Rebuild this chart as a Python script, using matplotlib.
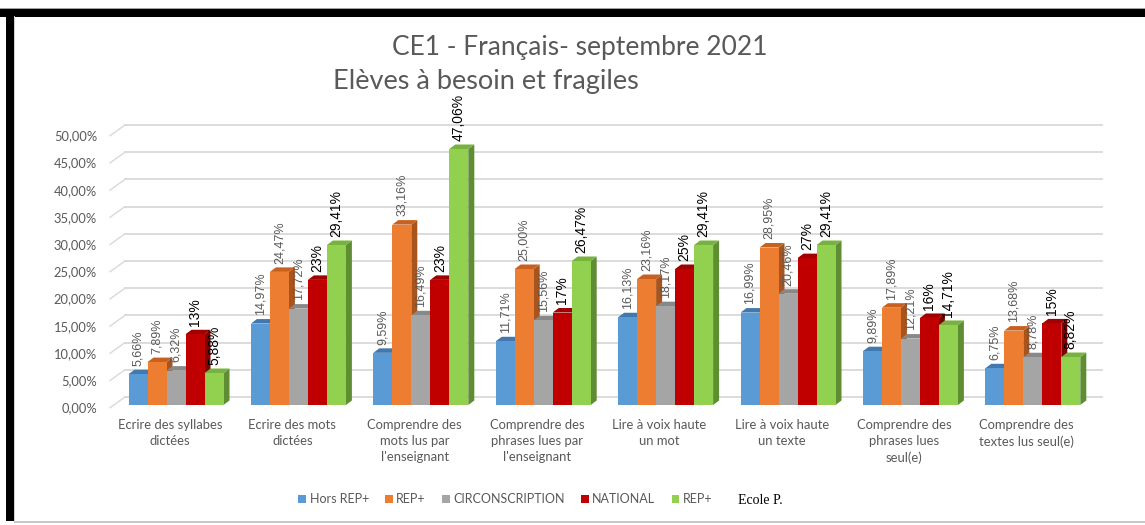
import matplotlib.pyplot as plt
from matplotlib.patches import Polygon, Rectangle
import numpy as np

# data (percent)
categories = ["Ecrire des syllabes\ndictées", "Ecrire des mots\ndictées",
              "Comprendre des\nmots lus par\nl'enseignant",
              "Comprendre des\nphrases lues par\nl'enseignant",
              "Lire à voix haute\nun mot", "Lire à voix haute\nun texte",
              "Comprendre des\nphrases lues\nseul(e)",
              "Comprendre des\ntextes lus seul(e)"]
series_names = ["Hors REP+", "REP+", "CIRCONSCRIPTION", "NATIONAL", "REP+"]
hors_rep = [5.66, 14.97, 9.59, 11.71, 16.13, 16.99, 9.89, 6.75]
rep_plus = [7.89, 24.47, 33.16, 25.00, 23.16, 28.95, 17.89, 13.68]
circo = [6.32, 17.72, 16.49, 15.56, 18.17, 20.46, 12.21, 8.78]
national = [13, 23, 23, 17, 25, 27, 16, 15]
ecole = [5.88, 29.41, 47.06, 26.47, 29.41, 29.41, 14.71, 8.82]
yticks = [0, 5, 10, 15, 20, 25, 30, 35, 40, 45, 50]

series = [hors_rep, rep_plus, circo, national, ecole]
front = ["#5B9BD5", "#ED7D31", "#A5A5A5", "#C00000", "#92D050"]
top_c = ["#4178AE", "#C8601F", "#888888", "#A00000", "#78B23E"]
side_c = ["#3F6E9C", "#A9541C", "#7A7A7A", "#7E0000", "#5F8D33"]

W, H = 1145, 525
fig = plt.figure(figsize=(W / 100, H / 100), dpi=100)

# pixel geometry of the plot
PX = 122.4      # px per group
PY = 5.44       # px per percent
X0 = 176        # px of first group centre
Y0 = 405        # px (from top) of bar floor
ax_l, ax_r, ax_t, ax_b = 60, 1110, 110, 480
ax = fig.add_axes([ax_l / W, 1 - ax_b / H, (ax_r - ax_l) / W, (ax_b - ax_t) / H])
ax.set_xlim((ax_l - X0) / PX, (ax_r - X0) / PX)
ax.set_ylim((Y0 - ax_b) / PY, (Y0 - ax_t) / PY)
ax.axis("off")


def ux(px):
    return (px - X0) / PX


narrow = ["Lato", "DejaVu Sans"]
grey_txt = "#595959"

# back wall grid + left wall diagonals
wall_dy = 8 / PY
for v in yticks:
    ax.plot([ux(125), ux(1102)], [v + wall_dy, v + wall_dy], color="#D9D9D9", lw=1.3, zorder=1)
    ax.plot([ux(110), ux(125)], [v - 0.5, v + wall_dy], color="#D9D9D9", lw=1.0, zorder=1)
    ax.text(ux(97), v - 0.6, ("%.2f%%" % v).replace(".", ","), ha="right", va="center",
            fontsize=9.3, color=grey_txt, family=narrow)

# 3d-ish bars
bw = 19 / PX
dx = 6 / PX
dy = 4.5 / PY
xg = np.arange(len(categories))
for s, vals in enumerate(series):
    x0 = xg - 2.5 * bw + s * bw
    z = 3 + s
    ax.bar(x0, vals, width=bw, align="edge", color=front[s], zorder=z + 0.2, linewidth=0)
    for x, v in zip(x0, vals):
        ax.add_patch(Polygon([(x, v), (x + bw, v), (x + bw + dx, v + dy), (x + dx, v + dy)],
                             closed=True, facecolor=top_c[s], edgecolor="none", zorder=z + 0.1))
        ax.add_patch(Polygon([(x + bw, 0), (x + bw + dx, dy), (x + bw + dx, v + dy), (x + bw, v)],
                             closed=True, facecolor=side_c[s], edgecolor="none", zorder=z))
        if s == 3:
            lab = "%d%%" % v
        else:
            lab = ("%.2f%%" % v).replace(".", ",")
        if s < 3:
            ax.text(x + bw / 2, v + 1.5, lab, rotation=90, ha="center", va="bottom",
                    fontsize=9, color=grey_txt, family="Liberation Sans", zorder=20)
        else:
            ax.text(x + bw / 2, v + 1.5, lab, rotation=90, ha="center", va="bottom",
                    fontsize=10, color="black", family="Liberation Sans", zorder=20)

# category labels
for i, c in enumerate(categories):
    ax.text(i - 6 / PX, (Y0 - 419) / PY, c, ha="center", va="top", fontsize=9.4,
            color=grey_txt, family=narrow, linespacing=1.4)

# titles
fig.text(580 / W, 1 - 48 / H, "CE1 - Français- septembre 2021", ha="center", va="center",
         fontsize=19, color=grey_txt, family=narrow)
fig.text(333 / W, 1 - 82 / H, "Elèves à besoin et fragiles", ha="left", va="center",
         fontsize=19.5, color=grey_txt, family=narrow, zorder=0)

# legend
handles = [Rectangle((0, 0), 1, 1, facecolor=front[s], edgecolor="none") for s in range(5)]
leg = fig.legend(handles, series_names, loc="center left", bbox_to_anchor=(287 / W, 1 - 499 / H),
                 ncol=5, frameon=False, handlelength=0.6, handleheight=0.6,
                 handletextpad=0.3, columnspacing=1.3, prop={"family": narrow, "size": 9})
for t in leg.get_texts():
    t.set_color(grey_txt)
fig.text(738 / W, 1 - 500 / H, "Ecole P.", ha="left", va="center", fontsize=10,
         color="black", family="Liberation Serif")

# frame of the screenshot
fig.add_artist(Rectangle((0, 1 - 8.5 / H), 1, 1 / H, transform=fig.transFigure,
                         facecolor="#A0A0A0", edgecolor="none"))
fig.add_artist(Rectangle((0, 1 - 16.7 / H), 1, 8.2 / H, transform=fig.transFigure,
                         facecolor="black", edgecolor="none"))
fig.add_artist(Rectangle((6 / W, 1 - 521 / H), 8 / W, 512 / H, transform=fig.transFigure,
                         facecolor="black", edgecolor="none"))
fig.add_artist(Rectangle((14 / W, 1 - 521 / H), 1.2 / W, 505 / H, transform=fig.transFigure,
                         facecolor="#D0D0D0", edgecolor="none"))
fig.add_artist(Rectangle((14 / W, 1 - 522.5 / H), 1 - 14 / W, 1.8 / H, transform=fig.transFigure,
                         facecolor="#C8C8C8", edgecolor="none"))

fig.savefig("out.png", dpi=100)
